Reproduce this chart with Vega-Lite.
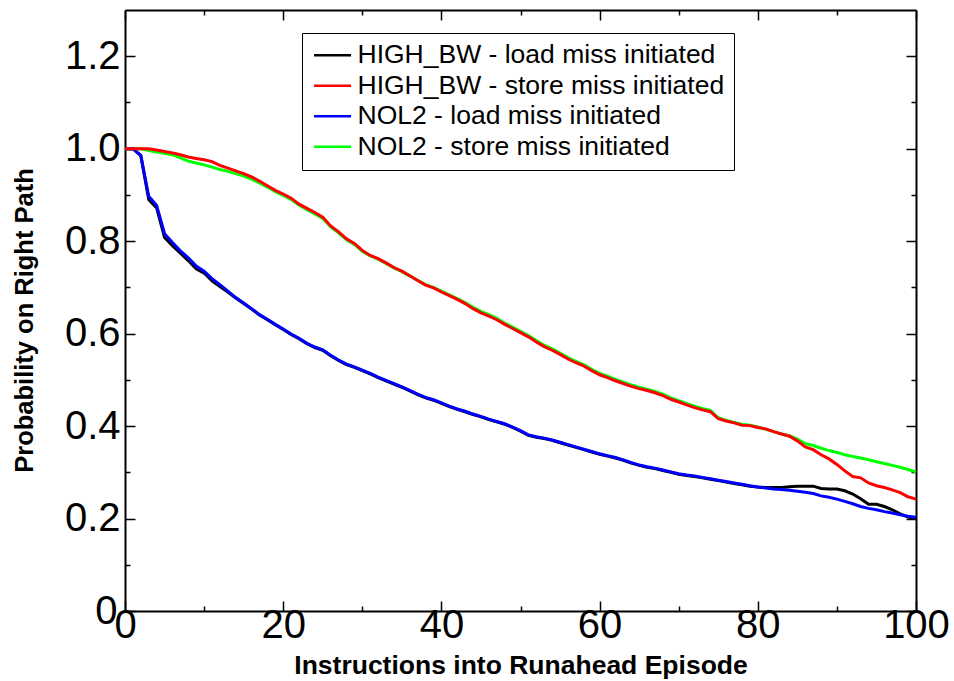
{
  "$schema": "https://vega.github.io/schema/vega-lite/v6.json",
  "width": 791,
  "height": 601,
  "autosize": {"type": "none"},
  "padding": {"left": 125, "top": 10, "right": 38, "bottom": 70},
  "background": "white",
  "config": {
    "view": {"stroke": null},
    "font": "Liberation Sans",
    "axis": {
      "domainColor": "black",
      "domainWidth": 2,
      "tickColor": "black",
      "tickWidth": 1.5,
      "grid": false,
      "labelFont": "Liberation Sans",
      "labelFontSize": 40,
      "labelColor": "black",
      "labelFlush": false,
      "labelOverlap": false,
      "labelBound": false,
      "titleFont": "Liberation Sans",
      "titleFontSize": 26,
      "titleFontWeight": "bold",
      "titleColor": "black"
    },
    "legend": {
      "orient": "none",
      "legendX": 177,
      "legendY": 23,
      "strokeColor": "black",
      "fillColor": "white",
      "padding": 9,
      "symbolType": "M-1.1,0H2.9",
      "symbolSize": 342,
      "symbolStrokeWidth": 2.5,
      "labelFont": "Liberation Sans",
      "labelFontSize": 26.5,
      "labelColor": "black",
      "labelLimit": 600,
      "labelOffset": 20,
      "rowPadding": 3.5
    }
  },
  "data": {
    "values": [
      {"x":0,"a":1.000,"b":1.000,"c":1.000,"d":1.000},
      {"x":1,"a":1.000,"b":1.000,"c":1.000,"d":1.000},
      {"x":2,"a":0.985,"b":1.000,"c":0.985,"d":1.000},
      {"x":3,"a":0.890,"b":1.000,"c":0.897,"d":0.996},
      {"x":4,"a":0.872,"b":0.997,"c":0.877,"d":0.993},
      {"x":5,"a":0.808,"b":0.994,"c":0.816,"d":0.990},
      {"x":6,"a":0.790,"b":0.991,"c":0.797,"d":0.987},
      {"x":7,"a":0.774,"b":0.987,"c":0.779,"d":0.980},
      {"x":8,"a":0.758,"b":0.982,"c":0.764,"d":0.973},
      {"x":9,"a":0.740,"b":0.979,"c":0.746,"d":0.969},
      {"x":10,"a":0.731,"b":0.976,"c":0.735,"d":0.965},
      {"x":11,"a":0.714,"b":0.972,"c":0.719,"d":0.960},
      {"x":12,"a":0.702,"b":0.964,"c":0.706,"d":0.955},
      {"x":13,"a":0.690,"b":0.958,"c":0.692,"d":0.951},
      {"x":14,"a":0.677,"b":0.952,"c":0.678,"d":0.946},
      {"x":15,"a":0.665,"b":0.946,"c":0.666,"d":0.941},
      {"x":16,"a":0.653,"b":0.939,"c":0.654,"d":0.934},
      {"x":17,"a":0.640,"b":0.930,"c":0.641,"d":0.926},
      {"x":18,"a":0.630,"b":0.920,"c":0.631,"d":0.917},
      {"x":19,"a":0.619,"b":0.910,"c":0.620,"d":0.907},
      {"x":20,"a":0.609,"b":0.902,"c":0.610,"d":0.899},
      {"x":21,"a":0.598,"b":0.893,"c":0.599,"d":0.890},
      {"x":22,"a":0.589,"b":0.880,"c":0.590,"d":0.878},
      {"x":23,"a":0.578,"b":0.871,"c":0.579,"d":0.868},
      {"x":24,"a":0.570,"b":0.862,"c":0.571,"d":0.859},
      {"x":25,"a":0.564,"b":0.852,"c":0.565,"d":0.849},
      {"x":26,"a":0.552,"b":0.833,"c":0.553,"d":0.831},
      {"x":27,"a":0.542,"b":0.820,"c":0.543,"d":0.818},
      {"x":28,"a":0.533,"b":0.805,"c":0.534,"d":0.803},
      {"x":29,"a":0.527,"b":0.795,"c":0.528,"d":0.793},
      {"x":30,"a":0.520,"b":0.780,"c":0.521,"d":0.778},
      {"x":31,"a":0.513,"b":0.769,"c":0.514,"d":0.768},
      {"x":32,"a":0.505,"b":0.762,"c":0.506,"d":0.761},
      {"x":33,"a":0.498,"b":0.753,"c":0.499,"d":0.752},
      {"x":34,"a":0.491,"b":0.743,"c":0.492,"d":0.742},
      {"x":35,"a":0.484,"b":0.735,"c":0.485,"d":0.734},
      {"x":36,"a":0.476,"b":0.725,"c":0.477,"d":0.725},
      {"x":37,"a":0.468,"b":0.715,"c":0.469,"d":0.715},
      {"x":38,"a":0.461,"b":0.705,"c":0.462,"d":0.706},
      {"x":39,"a":0.456,"b":0.699,"c":0.457,"d":0.700},
      {"x":40,"a":0.449,"b":0.690,"c":0.450,"d":0.692},
      {"x":41,"a":0.442,"b":0.682,"c":0.443,"d":0.684},
      {"x":42,"a":0.436,"b":0.674,"c":0.437,"d":0.676},
      {"x":43,"a":0.431,"b":0.665,"c":0.432,"d":0.667},
      {"x":44,"a":0.425,"b":0.654,"c":0.426,"d":0.657},
      {"x":45,"a":0.420,"b":0.645,"c":0.421,"d":0.648},
      {"x":46,"a":0.414,"b":0.638,"c":0.415,"d":0.641},
      {"x":47,"a":0.409,"b":0.630,"c":0.410,"d":0.633},
      {"x":48,"a":0.404,"b":0.620,"c":0.405,"d":0.623},
      {"x":49,"a":0.397,"b":0.611,"c":0.398,"d":0.614},
      {"x":50,"a":0.389,"b":0.602,"c":0.390,"d":0.605},
      {"x":51,"a":0.380,"b":0.593,"c":0.381,"d":0.596},
      {"x":52,"a":0.376,"b":0.582,"c":0.377,"d":0.585},
      {"x":53,"a":0.373,"b":0.572,"c":0.374,"d":0.575},
      {"x":54,"a":0.369,"b":0.564,"c":0.370,"d":0.567},
      {"x":55,"a":0.364,"b":0.555,"c":0.365,"d":0.558},
      {"x":56,"a":0.359,"b":0.545,"c":0.360,"d":0.548},
      {"x":57,"a":0.354,"b":0.537,"c":0.355,"d":0.540},
      {"x":58,"a":0.349,"b":0.530,"c":0.350,"d":0.533},
      {"x":59,"a":0.344,"b":0.520,"c":0.345,"d":0.523},
      {"x":60,"a":0.339,"b":0.511,"c":0.340,"d":0.514},
      {"x":61,"a":0.335,"b":0.505,"c":0.336,"d":0.508},
      {"x":62,"a":0.331,"b":0.498,"c":0.332,"d":0.501},
      {"x":63,"a":0.326,"b":0.492,"c":0.327,"d":0.495},
      {"x":64,"a":0.320,"b":0.486,"c":0.321,"d":0.489},
      {"x":65,"a":0.315,"b":0.481,"c":0.316,"d":0.484},
      {"x":66,"a":0.311,"b":0.477,"c":0.312,"d":0.480},
      {"x":67,"a":0.308,"b":0.472,"c":0.309,"d":0.475},
      {"x":68,"a":0.304,"b":0.466,"c":0.305,"d":0.469},
      {"x":69,"a":0.300,"b":0.458,"c":0.301,"d":0.461},
      {"x":70,"a":0.296,"b":0.452,"c":0.297,"d":0.455},
      {"x":71,"a":0.293,"b":0.446,"c":0.294,"d":0.449},
      {"x":72,"a":0.291,"b":0.440,"c":0.292,"d":0.443},
      {"x":73,"a":0.288,"b":0.435,"c":0.289,"d":0.438},
      {"x":74,"a":0.285,"b":0.431,"c":0.286,"d":0.434},
      {"x":75,"a":0.282,"b":0.416,"c":0.283,"d":0.418},
      {"x":76,"a":0.279,"b":0.411,"c":0.280,"d":0.412},
      {"x":77,"a":0.276,"b":0.407,"c":0.277,"d":0.408},
      {"x":78,"a":0.273,"b":0.402,"c":0.274,"d":0.404},
      {"x":79,"a":0.270,"b":0.401,"c":0.271,"d":0.402},
      {"x":80,"a":0.268,"b":0.397,"c":0.268,"d":0.398},
      {"x":81,"a":0.267,"b":0.394,"c":0.266,"d":0.393},
      {"x":82,"a":0.267,"b":0.388,"c":0.264,"d":0.388},
      {"x":83,"a":0.267,"b":0.383,"c":0.263,"d":0.383},
      {"x":84,"a":0.269,"b":0.378,"c":0.261,"d":0.379},
      {"x":85,"a":0.270,"b":0.368,"c":0.259,"d":0.372},
      {"x":86,"a":0.270,"b":0.355,"c":0.257,"d":0.362},
      {"x":87,"a":0.270,"b":0.349,"c":0.254,"d":0.358},
      {"x":88,"a":0.265,"b":0.338,"c":0.249,"d":0.352},
      {"x":89,"a":0.264,"b":0.329,"c":0.246,"d":0.347},
      {"x":90,"a":0.264,"b":0.317,"c":0.242,"d":0.343},
      {"x":91,"a":0.260,"b":0.303,"c":0.237,"d":0.338},
      {"x":92,"a":0.253,"b":0.291,"c":0.232,"d":0.334},
      {"x":93,"a":0.243,"b":0.288,"c":0.226,"d":0.331},
      {"x":94,"a":0.231,"b":0.277,"c":0.222,"d":0.327},
      {"x":95,"a":0.231,"b":0.271,"c":0.219,"d":0.323},
      {"x":96,"a":0.226,"b":0.267,"c":0.215,"d":0.319},
      {"x":97,"a":0.219,"b":0.262,"c":0.212,"d":0.315},
      {"x":98,"a":0.210,"b":0.256,"c":0.208,"d":0.311},
      {"x":99,"a":0.203,"b":0.247,"c":0.205,"d":0.306},
      {"x":100,"a":0.200,"b":0.242,"c":0.203,"d":0.301}
    ]
  },
  "transform": [
    {"fold": ["a", "d", "c", "b"], "as": ["series", "p"]}
  ],
  "layer": [
    {
      "mark": {"type": "line", "strokeWidth": 3},
      "encoding": {
        "x": {
          "field": "x", "type": "quantitative",
          "scale": {"domain": [0, 100], "nice": false},
          "axis": {
            "orient": "bottom",
            "title": "Instructions into Runahead Episode",
            "titleFontSize": 26.5,
            "values": [0,10,20,30,40,50,60,70,80,90,100],
            "tickSize": {"condition": {"test": "datum.value % 20 === 0", "value": -10}, "value": -5},
            "labelExpr": "datum.value % 20 === 0 ? datum.label : ''",
            "labelPadding": 4,
            "titleY": 62,
            "titleBaseline": "alphabetic"
          }
        },
        "y": {
          "field": "p", "type": "quantitative",
          "scale": {"domain": [0, 1.3], "nice": false, "zero": true},
          "axis": {
            "orient": "left",
            "title": "Probability on Right Path",
            "titleFontSize": 25.5,
            "values": [0,0.1,0.2,0.3,0.4,0.5,0.6,0.7,0.8,0.9,1.0,1.1,1.2],
            "tickSize": {"condition": {"test": "round(datum.value*10) % 2 === 0", "value": -10}, "value": -5},
            "labelExpr": "round(datum.value*10) % 2 === 0 ? (datum.value === 0 ? '0' : format(datum.value, '.1f')) : ''",
            "labelPadding": {"condition": {"test": "datum.value === 0", "value": 18}, "value": 15},
            "titleX": -93,
            "titleY": 310,
            "titleBaseline": "alphabetic",
            "titleAngle": -90
          }
        },
        "color": {
          "field": "series", "type": "nominal",
          "scale": {"domain": ["a", "b", "c", "d"], "range": ["#000000", "#ff0000", "#0000ff", "#00ff00"]},
          "legend": {
            "title": null,
            "labelExpr": "datum.label === 'a' ? 'HIGH_BW - load miss initiated' : datum.label === 'b' ? 'HIGH_BW - store miss initiated' : datum.label === 'c' ? 'NOL2 - load miss initiated' : 'NOL2 - store miss initiated'"
          }
        }
      }
    },
    {
      "mark": {"type": "point", "opacity": 0},
      "encoding": {
        "x": {
          "field": "x", "type": "quantitative",
          "axis": {
            "orient": "top", "title": null, "labels": false,
            "values": [0,10,20,30,40,50,60,70,80,90,100],
            "tickSize": {"condition": {"test": "datum.value % 20 === 0", "value": -10}, "value": -5}
          }
        },
        "y": {
          "field": "p", "type": "quantitative",
          "axis": {
            "orient": "right", "title": null, "labels": false,
            "values": [0,0.1,0.2,0.3,0.4,0.5,0.6,0.7,0.8,0.9,1.0,1.1,1.2],
            "tickSize": {"condition": {"test": "round(datum.value*10) % 2 === 0", "value": -10}, "value": -5}
          }
        }
      }
    }
  ],
  "resolve": {"axis": {"x": "independent", "y": "independent"}}
}
